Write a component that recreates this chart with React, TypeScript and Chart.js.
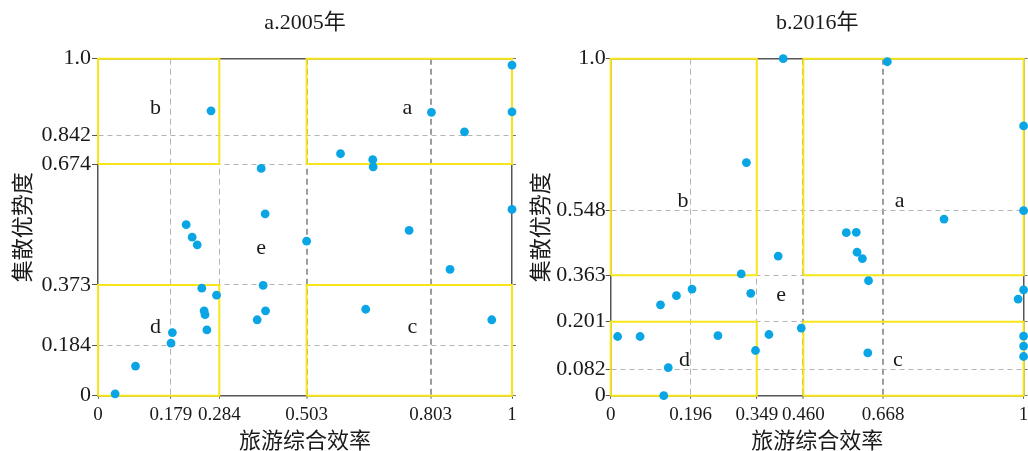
import React, { useEffect, useRef } from 'react';
import { Chart, registerables, LinearScale } from 'chart.js';

Chart.register(...registerables);

// ---------------- Data: a. 2005 ----------------
const xTicks2005 = [0, 0.179, 0.284, 0.503, 0.803, 1];
const xTickLabels2005 = ['0', '0.179', '0.284', '0.503', '0.803', '1'];
const yTicks2005 = [0, 0.184, 0.373, 0.674, 0.842, 1];
const yTickLabels2005 = ['0', '0.184', '0.373', '0.674', '0.842', '1.0'];
const efficiency2005 = [
  0.266, 0.805, 1.0, 1.0, 0.885, 0.585, 0.663, 0.664, 0.389, 0.399, 1.0,
  0.212, 0.225, 0.236, 0.503, 0.751, 0.85, 0.394, 0.246, 0.278, 0.251,
  0.253, 0.257, 0.4, 0.379, 0.646, 0.951, 0.182, 0.179, 0.092, 0.042,
];
const dominance2005 = [
  0.893, 0.89, 0.987, 0.891, 0.85, 0.735, 0.7, 0.667, 0.663, 0.55, 0.561,
  0.523, 0.492, 0.473, 0.482, 0.509, 0.412, 0.372, 0.363, 0.341, 0.292,
  0.28, 0.232, 0.292, 0.264, 0.297, 0.264, 0.224, 0.191, 0.108, 0.007,
];
const xBounds2005 = [0.284, 0.503];
const yBounds2005 = [0.373, 0.674];
const regionNames = ['a', 'b', 'c', 'd', 'e'];
const regionX2005 = [0.747, 0.141, 0.759, 0.141, 0.389];
const regionY2005 = [0.899, 0.899, 0.241, 0.241, 0.465];

// ---------------- Data: b. 2016 ----------------
const xTicks2016 = [0, 0.196, 0.349, 0.46, 0.668, 1];
const xTickLabels2016 = ['0', '0.196', '0.349', '0.460', '0.668', '1'];
const yTicks2016 = [0, 0.082, 0.201, 0.363, 0.548, 1];
const yTickLabels2016 = ['0', '0.082', '0.201', '0.363', '0.548', '1.0'];
const efficiency2016 = [
  0.412, 0.678, 1.0, 0.325, 1.0, 0.812, 0.572, 0.598, 0.6, 0.614, 0.4,
  0.313, 0.63, 1.0, 0.987, 0.199, 0.161, 0.122, 0.335, 0.455, 0.378,
  0.259, 0.017, 0.072, 0.346, 0.628, 1.0, 1.0, 1.0, 0.141, 0.13,
];
const dominance2016 = [
  1.0, 0.991, 0.8, 0.691, 0.548, 0.524, 0.485, 0.486, 0.429, 0.411, 0.418,
  0.367, 0.344, 0.312, 0.28, 0.315, 0.292, 0.26, 0.3, 0.185, 0.169,
  0.166, 0.164, 0.164, 0.129, 0.123, 0.165, 0.14, 0.114, 0.086, 0.0,
];
const xBounds2016 = [0.349, 0.46];
const yBounds2016 = [0.201, 0.363];
const regionX2016 = [0.707, 0.177, 0.703, 0.181, 0.407];
const regionY2016 = [0.575, 0.575, 0.104, 0.104, 0.292];

// ---------------- Piecewise scale (the source axes are not uniform) ----------------
function makePiecewiseScale(id: string, values: number[], fracs: number[]) {
  const n = values.length;
  const toFrac = (v: number) => {
    let i = 1;
    while (i < n - 1 && v > values[i]) i++;
    const t = (v - values[i - 1]) / (values[i] - values[i - 1]);
    return fracs[i - 1] + t * (fracs[i] - fracs[i - 1]);
  };
  const fromFrac = (f: number) => {
    let i = 1;
    while (i < n - 1 && f > fracs[i]) i++;
    const t = (f - fracs[i - 1]) / (fracs[i] - fracs[i - 1]);
    return values[i - 1] + t * (values[i] - values[i - 1]);
  };
  return class extends LinearScale {
    static id = id;
    getPixelForValue(value: any) {
      if (value === null || value === undefined || Number.isNaN(value)) return NaN;
      return (this as any).getPixelForDecimal(toFrac(value));
    }
    getValueForPixel(pixel: number) {
      return fromFrac((this as any).getDecimalForPixel(pixel));
    }
  };
}

const ScaleX2005 = makePiecewiseScale('pwX2005', xTicks2005, [0, 0.1763, 0.293, 0.5039, 0.8034, 1]);
const ScaleY2005 = makePiecewiseScale('pwY2005', yTicks2005, [0, 0.1496, 0.3285, 0.6875, 0.7715, 1]);
const ScaleX2016 = makePiecewiseScale('pwX2016', xTicks2016, [0, 0.1938, 0.3538, 0.4666, 0.6597, 1]);
const ScaleY2016 = makePiecewiseScale('pwY2016', yTicks2016, [0, 0.0783, 0.2196, 0.3573, 0.549, 1]);
Chart.register(ScaleX2005 as any, ScaleY2005 as any, ScaleX2016 as any, ScaleY2016 as any);

const SERIF = '"Liberation Serif", "Times New Roman", "Noto Sans CJK SC", serif';
const CJK = '"Noto Sans CJK SC", sans-serif';

type PanelCfg = {
  title: string;
  xType: string;
  yType: string;
  xTicks: number[];
  xTickLabels: string[];
  yTicks: number[];
  yTickLabels: string[];
  xs: number[];
  ys: number[];
  xBounds: number[];
  yBounds: number[];
  labelX: number[];
  labelY: number[];
  boldX: number[];
  left: number;
  width: number;
  yAxisW: number;
  yRightW: number;
  yTitlePad: number;
  yTickLen: number;
  yTickPad: number;
};

const panels: PanelCfg[] = [
  {
    title: 'a.2005年',
    xType: 'pwX2005',
    yType: 'pwY2005',
    xTicks: xTicks2005,
    xTickLabels: xTickLabels2005,
    yTicks: yTicks2005,
    yTickLabels: yTickLabels2005,
    xs: efficiency2005,
    ys: dominance2005,
    xBounds: xBounds2005,
    yBounds: yBounds2005,
    labelX: regionX2005,
    labelY: regionY2005,
    boldX: [0.503, 0.803],
    left: 0,
    width: 520,
    yAxisW: 98,
    yRightW: 8,
    yTitlePad: 8.8,
    yTickLen: 6,
    yTickPad: 1,
  },
  {
    title: 'b.2016年',
    xType: 'pwX2016',
    yType: 'pwY2016',
    xTicks: xTicks2016,
    xTickLabels: xTickLabels2016,
    yTicks: yTicks2016,
    yTickLabels: yTickLabels2016,
    xs: efficiency2016,
    ys: dominance2016,
    xBounds: xBounds2016,
    yBounds: yBounds2016,
    labelX: regionX2016,
    labelY: regionY2016,
    boldX: [0.46, 0.668],
    left: 520,
    width: 508,
    yAxisW: 90.7,
    yRightW: 3,
    yTitlePad: 6.8,
    yTickLen: 5,
    yTickPad: 0,
  },
];

const CANVAS_H = 460;
const PLOT_BOTTOM = 395.7;

function Panel({ cfg }: { cfg: PanelCfg }) {
  const ref = useRef<HTMLCanvasElement | null>(null);

  useEffect(() => {
    if (!ref.current) return;
    const points = cfg.xs.map((x, i) => ({ x, y: cfg.ys[i] }));
    const rect = (x0: number, x1: number, y0: number, y1: number) => [
      { x: x0, y: y0 },
      { x: x1, y: y0 },
      { x: x1, y: y1 },
      { x: x0, y: y1 },
      { x: x0, y: y0 },
    ];
    const [xl, xh] = cfg.xBounds;
    const [yl, yh] = cfg.yBounds;
    const rects = [rect(xh, 1, yh, 1), rect(0, xl, yh, 1), rect(xh, 1, 0, yl), rect(0, xl, 0, yl)];

    const isEnd = (v: number) => v <= 0 || v >= 1;
    const noPad = (s: any) => {
      s.paddingLeft = 0;
      s.paddingRight = 0;
      s.paddingTop = 0;
      s.paddingBottom = 0;
    };

    const overlay = {
      id: 'overlay',
      beforeDatasetsDraw(chart: any) {
        const { ctx, chartArea } = chart;
        ctx.save();
        ctx.strokeStyle = '#555';
        ctx.lineWidth = 1.5;
        ctx.beginPath();
        ctx.moveTo(chartArea.left, chartArea.top);
        ctx.lineTo(chartArea.right, chartArea.top);
        ctx.stroke();
        ctx.restore();
      },
      afterDatasetsDraw(chart: any) {
        const { ctx } = chart;
        const xs = chart.scales.x;
        const ys = chart.scales.y;
        ctx.save();
        ctx.fillStyle = '#1a1a1a';
        ctx.font = `22px ${SERIF}`;
        ctx.textAlign = 'center';
        ctx.textBaseline = 'middle';
        regionNames.forEach((name, i) => {
          ctx.fillText(name, xs.getPixelForValue(cfg.labelX[i]), ys.getPixelForValue(cfg.labelY[i]));
        });
        ctx.restore();
      },
    };

    const chart = new Chart(ref.current, {
      type: 'scatter',
      data: {
        datasets: [
          {
            data: points,
            backgroundColor: '#0aa5e5',
            borderWidth: 0,
            pointRadius: 4.4,
            order: 0,
            clip: false,
          } as any,
          ...rects.map((r) => ({
            data: r,
            showLine: true,
            borderColor: '#f7e51a',
            borderWidth: 2,
            pointRadius: 0,
            fill: false,
            order: 1,
            clip: false,
          })),
        ],
      },
      options: {
        responsive: false,
        animation: false,
        events: [],
        layout: { padding: 0 },
        plugins: {
          legend: { display: false },
          tooltip: { enabled: false },
          title: {
            display: true,
            text: cfg.title,
            fullSize: false,
            color: '#1a1a1a',
            font: { family: SERIF, size: 22, weight: 'normal', lineHeight: 1.2 },
            padding: { top: 9.8, bottom: 22.5 },
          },
        },
        scales: {
          x: {
            type: cfg.xType as any,
            position: 'bottom',
            min: 0,
            max: 1,
            afterBuildTicks: (s: any) => {
              s.ticks = cfg.xTicks.map((v) => ({ value: v }));
            },
            afterFit: (s: any) => {
              s.height = CANVAS_H - PLOT_BOTTOM;
              noPad(s);
            },
            ticks: {
              autoSkip: false,
              maxRotation: 0,
              minRotation: 0,
              padding: 5,
              color: '#1a1a1a',
              font: { family: SERIF, size: 19 },
              callback: (_v: any, i: number) => cfg.xTickLabels[i],
            },
            grid: {
              color: (c: any) => {
                const v = c.tick ? c.tick.value : 0.5;
                if (isEnd(v)) return 'rgba(0,0,0,0)';
                return cfg.boldX.includes(v) ? '#9c9c9c' : '#b4b4b4';
              },
              lineWidth: (c: any) => {
                const v = c.tick ? c.tick.value : 0.5;
                return cfg.boldX.includes(v) ? 2 : 1;
              },
              tickLength: 3,
              tickColor: '#555',
              tickWidth: 1,
            },
            border: { display: true, color: '#555', width: 1.5, dash: [6, 4] },
            title: {
              display: true,
              text: '旅游综合效率',
              color: '#1a1a1a',
              font: { family: CJK, size: 22, lineHeight: 1.2 },
              padding: { top: 0, bottom: 6.8 },
            },
          } as any,
          y: {
            type: cfg.yType as any,
            position: 'left',
            min: 0,
            max: 1,
            afterBuildTicks: (s: any) => {
              s.ticks = cfg.yTicks.map((v) => ({ value: v }));
            },
            afterFit: (s: any) => {
              s.width = cfg.yAxisW;
              noPad(s);
            },
            ticks: {
              autoSkip: false,
              padding: cfg.yTickPad,
              color: '#1a1a1a',
              font: { family: SERIF, size: 22 },
              callback: (_v: any, i: number) => cfg.yTickLabels[i],
            },
            grid: {
              color: (c: any) => {
                const v = c.tick ? c.tick.value : 0.5;
                return isEnd(v) ? 'rgba(0,0,0,0)' : '#b4b4b4';
              },
              lineWidth: 1,
              tickLength: cfg.yTickLen,
              tickColor: '#555',
              tickWidth: 1,
            },
            border: { display: true, color: '#555', width: 1.5, dash: [5, 4] },
            title: {
              display: true,
              text: '集散优势度',
              color: '#1a1a1a',
              font: { family: CJK, size: 22, lineHeight: 1.2 },
              padding: { top: cfg.yTitlePad, bottom: 0 },
            },
          } as any,
          yR: {
            type: cfg.yType as any,
            axis: 'y',
            position: 'right',
            min: 0,
            max: 1,
            afterBuildTicks: (s: any) => {
              s.ticks = cfg.yTicks.map((v) => ({ value: v }));
            },
            afterFit: (s: any) => {
              s.width = cfg.yRightW;
              noPad(s);
            },
            ticks: { display: false },
            grid: {
              drawOnChartArea: false,
              tickLength: 4,
              tickColor: '#777',
              tickWidth: 1,
            },
            border: { display: true, color: '#555', width: 1.5 },
          } as any,
        },
      },
      plugins: [overlay],
    });

    return () => chart.destroy();
  }, [cfg]);

  return (
    <canvas
      ref={ref}
      width={cfg.width}
      height={CANVAS_H}
      style={{ position: 'absolute', left: cfg.left, top: 0, width: cfg.width, height: CANVAS_H }}
    />
  );
}

export default function App() {
  return (
    <div
      style={{
        position: 'absolute',
        left: 0,
        top: 0,
        width: 1028,
        height: 451,
        overflow: 'hidden',
        background: '#ffffff',
      }}
    >
      {panels.map((p) => (
        <Panel key={p.title} cfg={p} />
      ))}
    </div>
  );
}
